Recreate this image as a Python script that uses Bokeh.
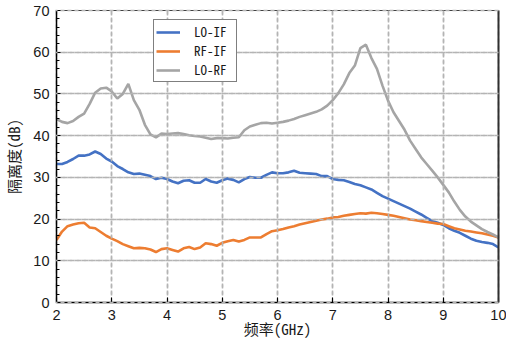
from bokeh.plotting import figure
from bokeh.models import Range1d, FixedTicker, Legend, LegendItem, LinearAxis
from bokeh.embed import file_html
from bokeh.resources import INLINE

freq = [2.0, 2.1, 2.2, 2.3, 2.4, 2.5, 2.6, 2.7, 2.8, 2.9,
        3.0, 3.1, 3.2, 3.3, 3.4, 3.5, 3.6, 3.7, 3.8, 3.9,
        4.0, 4.1, 4.2, 4.3, 4.4, 4.5, 4.6, 4.7, 4.8, 4.9,
        5.0, 5.1, 5.2, 5.3, 5.4, 5.5, 5.6, 5.7, 5.8, 5.9,
        6.0, 6.1, 6.2, 6.3, 6.4, 6.5, 6.6, 6.7, 6.8, 6.9,
        7.0, 7.1, 7.2, 7.3, 7.4, 7.5, 7.6, 7.7, 7.8, 7.9,
        8.0, 8.1, 8.2, 8.3, 8.4, 8.5, 8.6, 8.7, 8.8, 8.9,
        9.0, 9.1, 9.2, 9.3, 9.4, 9.5, 9.6, 9.7, 9.8, 9.9, 10.0]

lo_if = [33.2, 33.2, 33.7, 34.4, 35.2, 35.2, 35.5, 36.2, 35.6, 34.5,
         33.8, 32.7, 32.0, 31.2, 30.8, 30.9, 30.6, 30.3, 29.6, 29.9,
         29.6, 29.0, 28.6, 29.2, 29.3, 28.7, 28.7, 29.6, 29.0, 28.7,
         29.3, 29.7, 29.4, 28.8, 29.6, 30.1, 29.9, 29.9, 30.6, 31.2,
         31.0, 31.0, 31.2, 31.6, 31.1, 31.0, 30.9, 30.8, 30.3, 30.3,
         29.6, 29.4, 29.3, 28.9, 28.4, 28.1, 27.6, 27.1, 26.3, 25.5,
         24.9, 24.3, 23.7, 23.1, 22.5, 21.8, 21.1, 20.3, 19.5, 19.1,
         18.6, 17.8, 17.2, 16.7, 16.0, 15.3, 14.8, 14.5, 14.3, 14.0, 13.2]

rf_if = [15.0, 17.0, 18.3, 18.7, 19.0, 19.1, 18.0, 17.8, 16.9, 16.0,
         15.3, 14.7, 14.0, 13.5, 13.0, 13.1, 13.0, 12.7, 12.1, 12.8,
         13.0, 12.6, 12.2, 13.0, 13.3, 12.8, 13.2, 14.2, 14.0, 13.6,
         14.3, 14.7, 15.0, 14.6, 15.0, 15.6, 15.6, 15.6, 16.4, 17.1,
         17.3, 17.6, 18.0, 18.3, 18.7, 19.0, 19.3, 19.6, 19.9, 20.1,
         20.4, 20.5, 20.8, 21.0, 21.2, 21.4, 21.3, 21.5, 21.4, 21.2,
         21.0, 20.8, 20.5, 20.2, 19.9, 19.7, 19.5, 19.3, 19.1, 18.9,
         18.8, 18.3, 17.8, 17.5, 17.2, 17.0, 16.8, 16.6, 16.3, 16.0, 15.6]

lo_rf = [44.0, 43.3, 43.0, 43.5, 44.5, 45.3, 47.6, 50.3, 51.3, 51.5,
         50.6, 48.9, 50.0, 52.4, 48.5, 46.2, 42.6, 40.3, 39.6, 40.5,
         40.4, 40.5, 40.6, 40.4, 40.1, 39.9, 39.8, 39.5, 39.2, 39.4,
         39.4, 39.3, 39.5, 39.6, 41.3, 42.2, 42.6, 43.0, 43.1, 42.9,
         43.1, 43.3, 43.6, 44.0, 44.5, 44.9, 45.3, 45.7, 46.3, 47.2,
         48.5, 50.2, 52.3, 55.0, 56.8, 61.0, 61.8, 58.6, 56.0, 52.0,
         48.4, 45.6, 43.5, 41.4, 38.8, 36.8, 34.8, 33.2, 31.6, 30.0,
         28.2, 26.4, 24.2, 22.2, 20.6, 19.4, 18.5, 17.6, 16.9, 16.3, 15.6]

series_names = ["LO-IF", "RF-IF", "LO-RF"]
series_colors = ["#4472C4", "#ED7D31", "#A5A5A5"]
x_ticks = [2, 3, 4, 5, 6, 7, 8, 9, 10]
y_ticks = [0, 10, 20, 30, 40, 50, 60, 70]
y_minor = [v * 2 for v in range(36)]
x_min, x_max = 2, 10
y_min, y_max = 0, 70

W, H = 506, 345
B_LEFT, B_RIGHT, B_TOP, B_BOTTOM = 55, 8, 10, 43
FRAME_W = W - B_LEFT - B_RIGHT
FRAME_H = H - B_TOP - B_BOTTOM

cjk_font = "'Noto Sans Mono CJK SC', 'Noto Sans CJK SC', 'DejaVu Sans Mono'"

p = figure(width=W, height=H, x_range=Range1d(x_min, x_max), y_range=Range1d(y_min, y_max),
           output_backend="svg", toolbar_location=None,
           min_border_left=B_LEFT, min_border_right=B_RIGHT,
           min_border_top=B_TOP, min_border_bottom=B_BOTTOM)
p.background_fill_color = "white"
p.border_fill_color = "white"
p.outline_line_color = None

# regular grids, made a bit heavier so they survive anti-aliasing
for g, ticks in ((p.xgrid, x_ticks), (p.ygrid, y_ticks)):
    g.ticker = FixedTicker(ticks=ticks)
    g.grid_line_color = "#B4B4B4"
    g.grid_line_dash = "4 3"
    g.grid_line_width = 1.5
    g.grid_line_alpha = 1.0

bottom_ax = p.below[0]
left_ax = p.left[0]

renderers = []
for ys, c in zip([lo_if, rf_if, lo_rf], series_colors):
    r = p.line(freq, ys, line_color=c, line_width=2.6)
    renderers.append(r)

# Top and right axes: their lines form the frame border, their long inward
# ticks repeat the dashed grid (their labels are empty).
top_ax = LinearAxis(ticker=FixedTicker(ticks=x_ticks))
top_ax.axis_line_color = "#404040"
top_ax.axis_line_width = 1
top_ax.major_tick_in = FRAME_H
top_ax.major_tick_out = 0
top_ax.major_tick_line_color = "#B4B4B4"
top_ax.major_tick_line_dash = "4 3"
top_ax.major_tick_line_width = 1.5
top_ax.minor_tick_line_color = None
top_ax.major_label_text_font_size = "0px"
top_ax.major_label_overrides = {t: "" for t in x_ticks}
top_ax.major_label_standoff = 0
p.add_layout(top_ax, "above")

right_ax = LinearAxis(ticker=FixedTicker(ticks=y_ticks))
right_ax.axis_line_color = "#303030"
right_ax.axis_line_width = 2
right_ax.major_tick_in = FRAME_W
right_ax.major_tick_out = 0
right_ax.major_tick_line_color = "#B4B4B4"
right_ax.major_tick_line_dash = "4 3"
right_ax.major_tick_line_width = 1.5
right_ax.minor_tick_line_color = None
right_ax.major_label_text_font_size = "0px"
right_ax.major_label_overrides = {t: "" for t in y_ticks}
right_ax.major_label_standoff = 0
p.add_layout(right_ax, "right")

bottom_ax.ticker = FixedTicker(ticks=x_ticks)
left_ax.ticker = FixedTicker(ticks=y_ticks, minor_ticks=y_minor)

for ax in (bottom_ax, left_ax):
    ax.axis_line_color = "black"
    ax.axis_line_width = 1.5
    ax.major_tick_line_color = "black"
    ax.major_tick_in = 5
    ax.major_tick_out = 0
    ax.minor_tick_in = 3
    ax.minor_tick_out = 0
    ax.major_label_text_font = "Liberation Sans"
    ax.major_label_text_font_size = "14.5px"
    ax.major_label_text_color = "#1a1a1a"
    ax.axis_label_text_font = cjk_font
    ax.axis_label_text_font_size = "15px"
    ax.axis_label_text_font_style = "normal"
    ax.axis_label_text_color = "#1a1a1a"
bottom_ax.minor_tick_line_color = None
left_ax.minor_tick_line_color = "black"
bottom_ax.major_label_standoff = 7
left_ax.major_label_standoff = 7
bottom_ax.axis_label_standoff = -5
left_ax.axis_label_standoff = 6
bottom_ax.axis_label = "频率(GHz)"
left_ax.axis_label = "隔离度(dB)"

legend = Legend(items=[LegendItem(label=n, renderers=[r]) for n, r in zip(series_names, renderers)],
                location=(97, 220))
legend.label_text_font = cjk_font
legend.label_text_font_size = "13px"
legend.label_text_color = "#1a1a1a"
legend.border_line_color = "black"
legend.border_line_width = 1
legend.background_fill_alpha = 1.0
legend.padding = 2
legend.spacing = -1
legend.glyph_width = 24
legend.glyph_height = 16
legend.label_height = 16
legend.label_standoff = 14
legend.label_width = 40
legend.margin = 0
p.add_layout(legend)

open("out.html", "w").write(file_html(p, INLINE))
